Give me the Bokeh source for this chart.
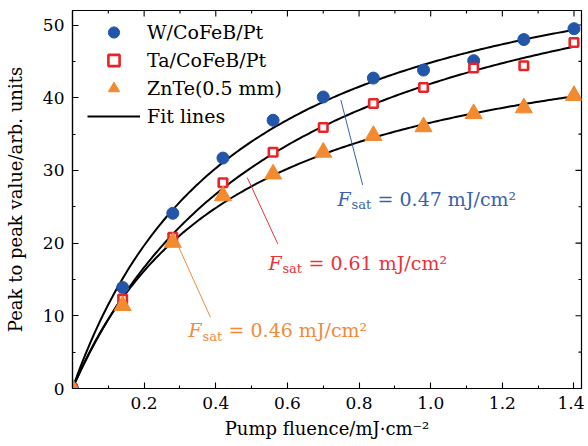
import numpy as np
from bokeh.plotting import figure
from bokeh.models import (FixedTicker, Legend, LegendItem, Range1d,
                          PrintfTickFormatter)
from bokeh.embed import file_html
from bokeh.resources import INLINE
from bokeh.core.properties import value

# ---------------- data ----------------
fluence = [0.0, 0.14, 0.28, 0.42, 0.56, 0.70, 0.84, 0.98, 1.12, 1.26, 1.40]
w_cofeb_pt = [0.0, 13.9, 24.1, 31.7, 36.9, 40.1, 42.7, 43.8, 45.1, 48.0, 49.5]
ta_cofeb_pt = [0.0, 12.3, 20.8, 28.3, 32.5, 35.9, 39.2, 41.4, 44.1, 44.4, 47.6]
znte = [0.0, 11.4, 20.1, 26.5, 29.5, 32.5, 34.8, 36.0, 37.8, 38.6, 40.3]

series_names = ["W/CoFeB/Pt", "Ta/CoFeB/Pt", "ZnTe(0.5 mm)"]

# saturation fit  E = A * F / (F + Fsat)
fit_amplitude = [65.9, 67.5, 53.4]
fit_fsat = [0.47, 0.61, 0.46]
fit_labels = ["0.47", "0.61", "0.46"]

x_ticks = [0.2, 0.4, 0.6, 0.8, 1.0, 1.2, 1.4]
x_minor = [0.1, 0.3, 0.5, 0.7, 0.9, 1.1, 1.3]
y_ticks = [0, 10, 20, 30, 40, 50]
y_minor = [5, 15, 25, 35, 45]
X_MAX = 1.421
Y_MAX = 52

# annotation placement (data coords)
ann_text_x = [0.740, 0.547, 0.324]
ann_text_y = [26.1, 17.3, 8.0]
lead_x0 = [0.749, 0.488, 0.288]
lead_y0 = [39.7, 29.0, 20.4]
lead_x1 = [0.810, 0.573, 0.385]
lead_y1 = [28.0, 19.9, 9.8]

# ---------------- style ----------------
FONT = "DejaVu Serif"
C_BLUE = "#2356a8"
C_RED = "#ec2227"
C_ORANGE = "#f28a30"
ann_colors = ["#3a5fae", "#ec3038", "#f28a3a"]

p = figure(width=584, height=444, output_backend="svg", toolbar_location=None,
           x_range=Range1d(0, X_MAX), y_range=Range1d(0, Y_MAX),
           min_border_left=72, min_border_right=3, min_border_top=10,
           min_border_bottom=56)
p.grid.visible = False
p.outline_line_color = "black"
p.outline_line_width = 1.2
p.background_fill_color = "white"
p.border_fill_color = "white"

def style_axis(ax, ticks, minor):
    ax.ticker = FixedTicker(ticks=ticks, minor_ticks=minor)
    ax.major_tick_in = 6
    ax.major_tick_out = 0
    ax.minor_tick_in = 3
    ax.minor_tick_out = 0
    ax.axis_line_color = "black"
    ax.axis_line_width = 1.2
    ax.major_tick_line_width = 1.1
    ax.minor_tick_line_width = 1.1
    ax.major_label_text_font = FONT
    ax.major_label_text_color = "black"
    ax.major_label_text_font_size = "17px"
    ax.axis_label_text_font = FONT
    ax.axis_label_text_font_size = "18px"
    ax.axis_label_text_font_style = "normal"
    ax.axis_label_text_color = "black"

xa = p.xaxis[0]
ya = p.yaxis[0]
style_axis(xa, x_ticks, x_minor)
style_axis(ya, y_ticks, y_minor)
xa.formatter = PrintfTickFormatter(format="%.1f")
xa.major_label_standoff = 8
ya.major_label_standoff = 8
xa.axis_label = "Pump fluence/mJ·cm⁻²"
xa.axis_label_standoff = 6
ya.axis_label = "Peak to peak value/arb. units"
ya.axis_label_standoff = 14

# mirrored inward ticks on top and right edges
p.ray(x=x_ticks, y=[Y_MAX] * len(x_ticks), length=6, length_units="screen",
      angle=-np.pi / 2, line_color="black", line_width=1.1)
p.ray(x=x_minor, y=[Y_MAX] * len(x_minor), length=3, length_units="screen",
      angle=-np.pi / 2, line_color="black", line_width=1.1)
p.ray(x=[X_MAX] * len(y_ticks), y=y_ticks, length=6, length_units="screen",
      angle=np.pi, line_color="black", line_width=1.1)
p.ray(x=[X_MAX] * len(y_minor), y=y_minor, length=3, length_units="screen",
      angle=np.pi, line_color="black", line_width=1.1)

# ---------------- fit lines ----------------
xf = np.linspace(0.0, 1.40, 200)
fit_renderers = []
for A, fs in zip(fit_amplitude, fit_fsat):
    r = p.line(xf, A * xf / (xf + fs), line_color="black", line_width=2)
    fit_renderers.append(r)

# ---------------- leader lines ----------------
for i in range(3):
    p.line([lead_x0[i], lead_x1[i]], [lead_y0[i], lead_y1[i]],
           line_color=ann_colors[i], line_width=1)

# ---------------- data points ----------------
r_w = p.scatter(fluence, w_cofeb_pt, marker="circle", size=12,
                fill_color=C_BLUE, line_color=C_BLUE)
r_ta = p.scatter(fluence, ta_cofeb_pt, marker="square", size=8.5,
                 fill_color="white", line_color=C_RED, line_width=2.6)
r_zn = p.scatter(fluence, znte, marker="triangle", size=17,
                 fill_color=C_ORANGE, line_color=C_ORANGE)

# ---------------- annotation texts ----------------
for i in range(3):
    c = ann_colors[i]
    p.text([ann_text_x[i]], [ann_text_y[i]], text=["F"],
           text_font=value(FONT), text_font_size="19px", text_font_style="italic",
           text_color=c, text_baseline="middle", text_align="left")
    p.text([ann_text_x[i]], [ann_text_y[i]], text=["sat"], x_offset=14, y_offset=6,
           text_font=value(FONT), text_font_size="13px",
           text_color=c, text_baseline="middle", text_align="left")
    p.text([ann_text_x[i]], [ann_text_y[i]], text=["= " + fit_labels[i] + " mJ/cm²"],
           x_offset=40, text_font=value(FONT), text_font_size="19px",
           text_color=c, text_baseline="middle", text_align="left")

# ---------------- legend ----------------
legend = Legend(items=[
    LegendItem(label=series_names[0], renderers=[r_w]),
    LegendItem(label=series_names[1], renderers=[r_ta]),
    LegendItem(label=series_names[2], renderers=[r_zn]),
    LegendItem(label="Fit lines", renderers=[fit_renderers[0]]),
], location=(15, 258))
legend.padding = 0
legend.margin = 0
legend.spacing = 0
legend.glyph_width = 53
legend.glyph_height = 28
legend.label_height = 28
legend.label_standoff = 7
legend.label_text_font = FONT
legend.label_text_font_size = "19px"
legend.label_text_color = "black"
legend.border_line_color = None
legend.background_fill_alpha = 0
p.add_layout(legend, "center")

open("out.html", "w").write(file_html(p, INLINE))
